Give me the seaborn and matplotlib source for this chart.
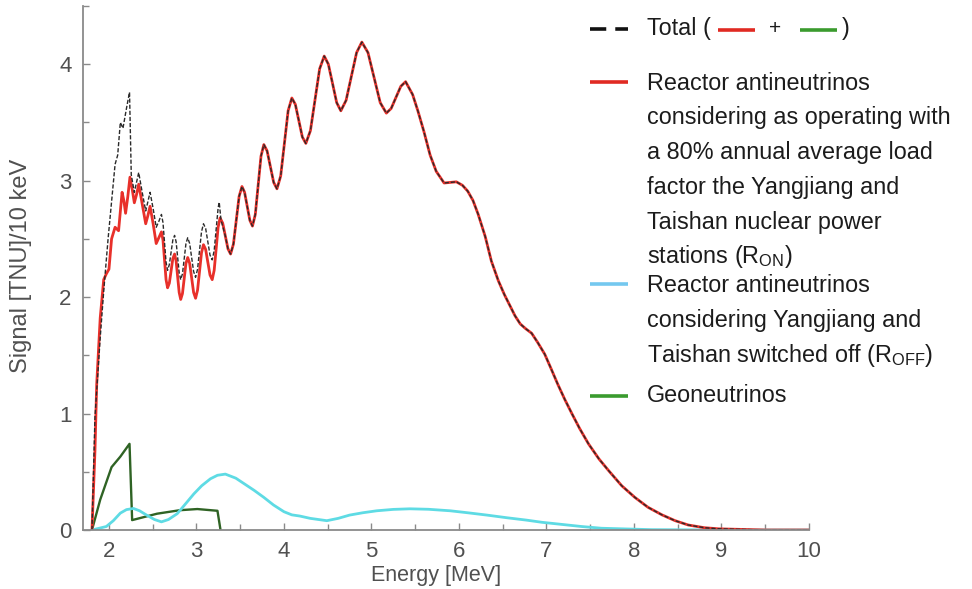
import matplotlib
matplotlib.use("Agg")
import matplotlib.pyplot as plt
from matplotlib.lines import Line2D
import seaborn as sns

# Reactor antineutrinos, Yangjiang and Taishan operating at 80% load (R_ON)
e_on = [1.806, 1.84, 1.86, 1.90, 1.94, 1.97, 2.00, 2.03, 2.07, 2.11, 2.15, 2.17,
        2.19, 2.215, 2.24, 2.265, 2.29, 2.315, 2.34, 2.38, 2.42, 2.445, 2.47,
        2.505, 2.54, 2.57, 2.60, 2.6175, 2.635, 2.6525, 2.67, 2.69, 2.71, 2.73,
        2.75, 2.7675, 2.785, 2.8025, 2.82, 2.84, 2.86, 2.88, 2.90, 2.9225, 2.945,
        2.9675, 2.99, 3.0125, 3.035, 3.0575, 3.08, 3.105, 3.13, 3.155, 3.18,
        3.2025, 3.225, 3.2475, 3.27, 3.30, 3.33, 3.36, 3.39, 3.4225, 3.455,
        3.4875, 3.52, 3.55, 3.58, 3.61, 3.64, 3.6725, 3.705, 3.7375, 3.77,
        3.8075, 3.845, 3.8825, 3.92, 3.9625, 4.005, 4.0475, 4.09, 4.13, 4.17,
        4.21, 4.25, 4.3025, 4.355, 4.4075, 4.46, 4.5075, 4.555, 4.6025, 4.65,
        4.71, 4.77, 4.83, 4.89, 4.96, 5.03, 5.10, 5.17, 5.225, 5.28, 5.335, 5.39,
        5.47, 5.53, 5.60, 5.67, 5.74, 5.83, 5.90, 5.97, 6.04, 6.10, 6.16, 6.22,
        6.30, 6.37, 6.45, 6.52, 6.58, 6.64, 6.70, 6.76, 6.83, 6.90, 6.98, 7.05,
        7.13, 7.21, 7.29, 7.38, 7.48, 7.60, 7.71, 7.86, 8.01, 8.16, 8.32, 8.47,
        8.62, 8.80, 8.97, 9.5, 10.0]
r_on = [0.00, 0.68, 1.25, 1.82, 2.15, 2.20, 2.24, 2.50, 2.60, 2.57, 2.90, 2.83,
        2.72, 2.86, 3.03, 2.93, 2.81, 2.88, 2.97, 2.80, 2.63, 2.70, 2.78,
        2.63, 2.46, 2.51, 2.56, 2.49, 2.32, 2.15, 2.08, 2.12, 2.225, 2.33,
        2.37, 2.31, 2.175, 2.04, 1.98, 2.03, 2.16, 2.29, 2.34, 2.29, 2.165,
        2.04, 1.99, 2.06, 2.22, 2.38, 2.45, 2.41, 2.30, 2.19, 2.15,
        2.23, 2.415, 2.60, 2.68, 2.635, 2.525, 2.415, 2.37, 2.455, 2.66,
        2.865, 2.95, 2.90, 2.78, 2.66, 2.61, 2.71, 2.96, 3.21, 3.31,
        3.255, 3.12, 2.985, 2.93, 3.04, 3.32, 3.60, 3.71, 3.655, 3.515,
        3.375, 3.32, 3.43, 3.695, 3.96, 4.07, 4.00, 3.835, 3.67, 3.60,
        3.69, 3.895, 4.10, 4.19, 4.10, 3.885, 3.67, 3.58, 3.62, 3.715, 3.81, 3.85,
        3.74, 3.60, 3.42, 3.22, 3.08, 2.98, 2.985, 2.99, 2.96, 2.91, 2.83, 2.71,
        2.52, 2.31, 2.14, 2.02, 1.93, 1.84, 1.77, 1.73, 1.69, 1.61, 1.51, 1.39,
        1.25, 1.12, 1.00, 0.87, 0.74, 0.61, 0.51, 0.38, 0.28, 0.195, 0.13, 0.08,
        0.043, 0.02, 0.01, 0.0, 0.0]

# Total (R_ON + geoneutrinos) below 3.3 MeV, where the two differ
e_total_low = [1.806, 1.84, 1.90, 1.94, 1.99, 2.03, 2.07, 2.10, 2.13, 2.16, 2.20,
               2.235, 2.255, 2.29, 2.34, 2.38, 2.42, 2.47, 2.505, 2.54, 2.57, 2.60,
               2.6175, 2.635, 2.6525, 2.67, 2.69, 2.71, 2.73, 2.75, 2.7675, 2.785,
               2.8025, 2.82, 2.84, 2.86, 2.88, 2.90, 2.9225, 2.945, 2.9675, 2.99,
               3.0125, 3.035, 3.0575, 3.08, 3.105, 3.13, 3.155, 3.18, 3.2025, 3.225,
               3.2475, 3.26, 3.28]
total_low = [0.00, 0.97, 1.65, 2.05, 2.50, 2.82, 3.14, 3.22, 3.50, 3.45, 3.62,
             3.76, 3.05, 2.90, 3.07, 2.90, 2.74, 2.90, 2.76, 2.60, 2.65, 2.71,
             2.64, 2.47, 2.30, 2.23, 2.28, 2.385, 2.49, 2.53, 2.475, 2.34,
             2.21, 2.15, 2.20, 2.33, 2.46, 2.51, 2.46, 2.34, 2.22, 2.17,
             2.24, 2.40, 2.56, 2.63, 2.59, 2.475, 2.36, 2.32, 2.40, 2.58,
             2.765, 2.815, 2.665]

# Reactor antineutrinos with Yangjiang and Taishan switched off (R_OFF)
e_off = [1.806, 1.97, 2.05, 2.13, 2.20, 2.28, 2.35, 2.43, 2.52, 2.60, 2.68, 2.78,
         2.87, 2.97, 3.06, 3.16, 3.24, 3.33, 3.45, 3.54, 3.66, 3.77, 3.88, 4.00,
         4.09, 4.18, 4.30, 4.49, 4.62, 4.75, 4.90, 5.06, 5.25, 5.44, 5.65, 5.90,
         6.10, 6.32, 6.55, 6.77, 6.95, 7.15, 7.40, 7.63, 8.2, 9.0, 10.0]
r_off = [0.0, 0.03, 0.08, 0.145, 0.175, 0.185, 0.165, 0.128, 0.09, 0.07, 0.09, 0.14,
         0.22, 0.31, 0.38, 0.44, 0.47, 0.48, 0.445, 0.40, 0.34, 0.28, 0.215, 0.157,
         0.13, 0.12, 0.10, 0.08, 0.10, 0.128, 0.148, 0.165, 0.177, 0.182, 0.178, 0.165,
         0.148, 0.128, 0.105, 0.085, 0.066, 0.05, 0.03, 0.015, 0.003, 0.0, 0.0]

# Geoneutrinos
e_geo = [1.806, 1.90, 2.03, 2.13, 2.235, 2.265, 2.55, 2.81, 3.01, 3.24, 3.275]
geo = [0.0, 0.26, 0.54, 0.63, 0.74, 0.085, 0.14, 0.17, 0.18, 0.165, 0.0]

x_ticks = [2, 3, 4, 5, 6, 7, 8, 9, 10]
y_ticks = [0, 1, 2, 3, 4]

# above 3.3 MeV the geoneutrino flux vanishes and the total is R_ON itself
e_total = e_total_low + [e for e in e_on if e > 3.30]
total = total_low + [v for e, v in zip(e_on, r_on) if e > 3.30]

sns.set_style("ticks")
plt.rcParams["font.family"] = ["Liberation Sans", "DejaVu Sans"]
plt.rcParams["mathtext.default"] = "regular"

W, H = 972, 589
fig = plt.figure(figsize=(W / 100, H / 100), dpi=100)
ax = fig.add_axes([82.7 / W, 1 - 530 / H, (809 - 82.7) / W, (530 - 6) / H])

RED = "#e8302a"
CYAN = "#5edbe4"
DKGREEN = "#2f6324"

sns.lineplot(x=e_geo, y=geo, ax=ax, color=DKGREEN, lw=1.7, sort=False, estimator=None)
sns.lineplot(x=e_off, y=r_off, ax=ax, color=CYAN, lw=2.0, sort=False, estimator=None)
sns.lineplot(x=e_on, y=r_on, ax=ax, color=RED, lw=2.0, sort=False, estimator=None)
sns.lineplot(x=e_total, y=total, ax=ax, color="#2a2a2a", lw=1.0, sort=False,
             estimator=None)
ax.lines[-1].set_dashes([3.0, 1.4])

ax.set_xlim(1.7, 10)
ax.set_ylim(0, 4.48)
ax.set_xticks(x_ticks)
ax.set_yticks(y_ticks)
ax.set_xticks([t + 0.5 for t in x_ticks[:-1]], minor=True)
ax.set_yticks([t + 0.5 for t in y_ticks], minor=True)
ax.set_xticklabels([str(t) for t in x_ticks])
ax.set_yticklabels([str(t) for t in y_ticks])

sns.despine(ax=ax)
for side in ("left", "bottom"):
    ax.spines[side].set_color("#8a8a8a")
    ax.spines[side].set_linewidth(1.3)
ax.tick_params(which="both", direction="in", color="#8a8a8a", width=1.0,
               labelsize=16, labelcolor="#505050", pad=8)
ax.tick_params(which="major", length=5)
ax.tick_params(which="minor", length=4)

ax.set_xlabel("Energy [MeV]", fontsize=15.5, color="#505050")
ax.set_ylabel("Signal [TNU]/10 keV", fontsize=17, color="#505050")
ax.xaxis.set_label_coords(0.486, -0.067)
ax.yaxis.set_label_coords(-0.07, 0.505)


def fx(px):
    return px / W


def fy(py):
    return 1 - py / H


def handle(x0, x1, y, color, **kw):
    fig.add_artist(Line2D([fx(x0), fx(x1)], [fy(y), fy(y)], color=color,
                          transform=fig.transFigure, solid_capstyle="butt", **kw))


TXT = dict(fontsize=16.8, color="#1c1c1c", va="center", ha="left")
tx = 647

# Total entry with inline swatches
handle(590, 628, 29, "#111111", lw=2.6, dashes=[4.5, 2.5])
fig.text(fx(tx), fy(28), "Total (", **TXT)
handle(718, 755, 30, "#e02a22", lw=2.6)
fig.text(fx(775), fy(28), "+", fontsize=15, color="#1c1c1c", va="center", ha="center")
handle(800, 837, 30, "#3a9b2e", lw=2.6)
fig.text(fx(842), fy(28), ")", **TXT)

# R_ON entry
handle(590, 628, 82, "#e02a22", lw=2.6)
on_lines = ["Reactor antineutrinos",
            "considering as operating with",
            "a 80% annual average load",
            "factor the Yangjiang and",
            "Taishan nuclear power",
            "stations (R$_{ON}$)"]
for i, s in enumerate(on_lines):
    fig.text(fx(tx), fy(83 + 34.8 * i), s, **TXT)

# R_OFF entry
handle(590, 628, 284, "#74c8ef", lw=2.6)
off_lines = ["Reactor antineutrinos",
             "considering Yangjiang and",
             "Taishan switched off (R$_{OFF}$)"]
for i, s in enumerate(off_lines):
    fig.text(fx(tx), fy(286 + 34.8 * i), s, **TXT)

# Geoneutrino entry
handle(590, 628, 396, "#3a9b2e", lw=2.6)
fig.text(fx(tx), fy(395), "Geoneutrinos", **TXT)

fig.savefig("out.png", dpi=100)
